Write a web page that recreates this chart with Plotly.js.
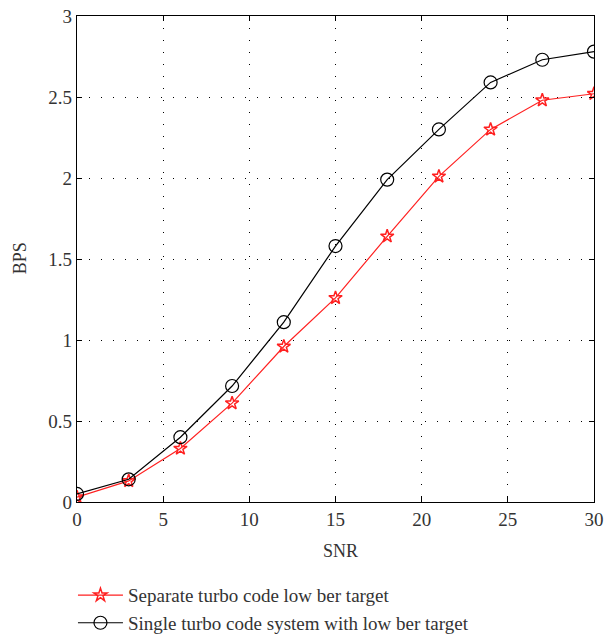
<!DOCTYPE html>
<html>
<head>
<meta charset="utf-8">
<script src="https://cdn.plot.ly/plotly-3.0.1.min.js"></script>
<style>html,body{margin:0;padding:0;background:#fff;}#chart{width:608px;height:636px;}</style>
</head>
<body>
<div id="chart"></div>
<script>
var snr = [0, 3, 6, 9, 12, 15, 18, 21, 24, 27, 30];
var separateBps = [0.03, 0.13, 0.33, 0.61, 0.96, 1.26, 1.64, 2.01, 2.30, 2.48, 2.52];
var singleBps = [0.05, 0.14, 0.40, 0.716, 1.11, 1.58, 1.99, 2.30, 2.59, 2.73, 2.78];
var seriesNames = ["Separate turbo code low ber target", "Single turbo code system with low ber target"];
var xTicks = [0, 5, 10, 15, 20, 25, 30];
var yTicks = [0, 0.5, 1, 1.5, 2, 2.5, 3];
var yTickText = ["0", "0.5", "1", "1.5", "2", "2.5", "3"];
var xTitle = "SNR";
var yTitle = "BPS";

var fam = "Liberation Serif, Times New Roman, serif";
var tickFont = {family: fam, size: 19, color: "#333"};
var titleFont = {family: fam, size: 18, color: "#333"};
var legendFont = {family: fam, size: 19, color: "#333"};

var traces = [
  {x: snr, y: separateBps, name: seriesNames[0], mode: "lines+markers",
   line: {color: "#ff2020", width: 1.2},
   marker: {symbol: "star-open", size: 10, color: "#ff2020", line: {width: 1.5, color: "#ff2020"}}},
  {x: snr, y: singleBps, name: seriesNames[1], mode: "lines+markers",
   line: {color: "#000", width: 1.2},
   marker: {symbol: "circle-open", size: 13, color: "#000", line: {width: 1.2, color: "#000"}}}
];

var axisCommon = {
  showline: true, linecolor: "#000", linewidth: 1.2, mirror: "ticks",
  ticks: "inside", ticklen: 5, tickcolor: "#000", tickwidth: 1,
  showgrid: true, gridcolor: "#000", gridwidth: 1, griddash: "1px,11px",
  zeroline: false, tickfont: tickFont, automargin: false
};

var layout = {
  width: 608, height: 636,
  margin: {l: 77, r: 14, t: 16, b: 134, autoexpand: false},
  paper_bgcolor: "#fff", plot_bgcolor: "#fff",
  font: tickFont,
  showlegend: true,
  legend: {x: 0.12, xref: "container", xanchor: "left", y: 0.094, yref: "container", yanchor: "top",
           font: legendFont, bgcolor: "rgba(0,0,0,0)", tracegroupgap: 0, itemwidth: 45},
  xaxis: Object.assign({}, axisCommon, {range: [0, 30], tickvals: xTicks}),
  yaxis: Object.assign({}, axisCommon, {range: [0, 3], tickvals: yTicks, ticktext: yTickText}),
  annotations: [
    {text: xTitle, xref: "paper", yref: "paper", x: 0.51, y: -0.1008, xanchor: "center", yanchor: "middle",
     showarrow: false, font: titleFont},
    {text: yTitle, xref: "paper", yref: "paper", x: -0.110, y: 0.502, xanchor: "center", yanchor: "middle",
     textangle: -90, showarrow: false, font: titleFont}
  ]
};

Plotly.newPlot("chart", traces, layout, {displayModeBar: false, staticPlot: true});
</script>
</body>
</html>
